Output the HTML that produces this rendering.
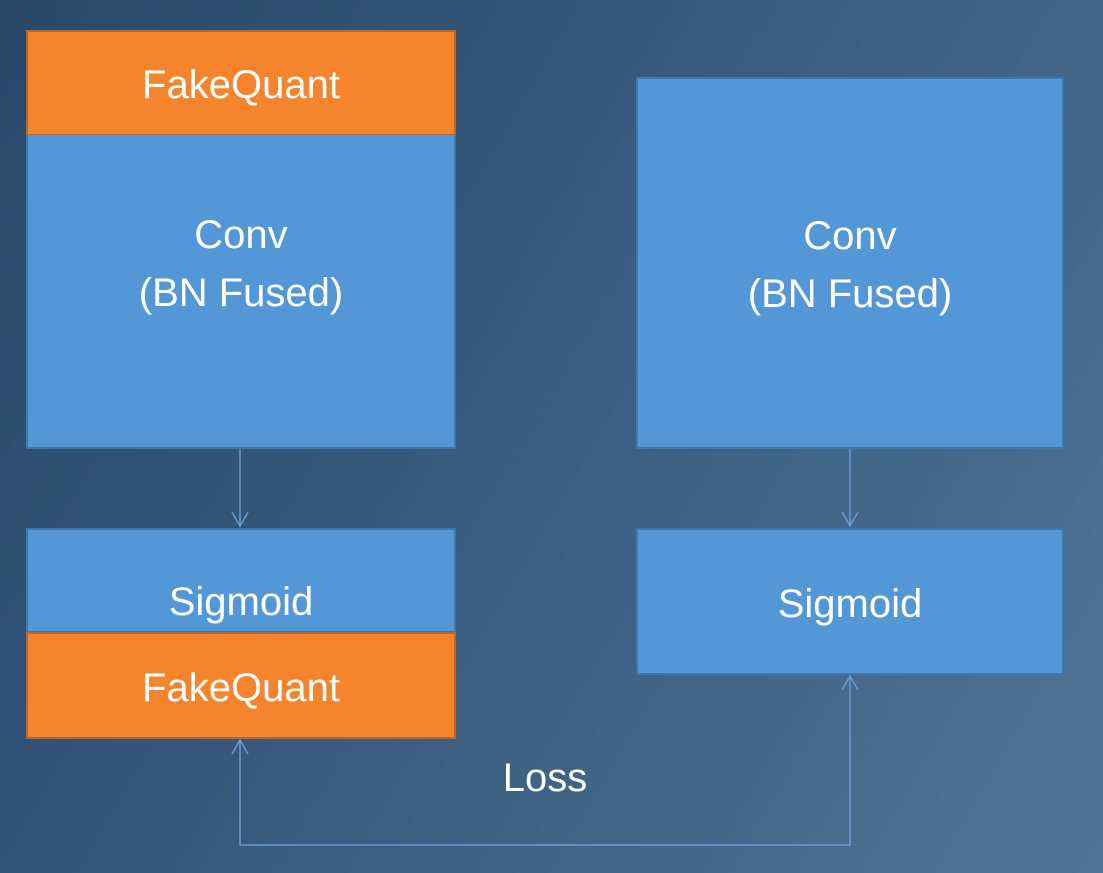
<!DOCTYPE html>
<html><head><meta charset="utf-8"><style>
body{margin:0;width:1103px;height:873px;overflow:hidden;background:linear-gradient(120deg,#294769 0%,#3a5c80 50%,#4f7596 100%);font-family:"Liberation Sans",sans-serif;position:relative}
.b{position:absolute;box-sizing:border-box;display:flex;align-items:center;justify-content:center;text-align:center;color:#fff;font-size:40px;line-height:58px}
.o{background:#f5842c;border:2px solid #b8662a}
.u{background:#5497d6;border:2px solid #3f78ad}
svg{position:absolute;left:0;top:0}
</style></head><body>
<div class="b o" style="left:26px;top:30px;width:430px;height:106px;padding-top:4px">FakeQuant</div>
<div class="b u" style="left:26px;top:135px;width:430px;height:314px;border-top:none;padding-bottom:54px">Conv<br>(BN Fused)</div>
<div class="b u" style="left:26px;top:528px;width:430px;height:105px;padding-top:42px">Sigmoid</div>
<div class="b o" style="left:26px;top:632px;width:430px;height:107px;padding-top:4px">FakeQuant</div>
<div class="b u" style="left:636px;top:77px;width:428px;height:372px;padding-top:4px">Conv<br>(BN Fused)</div>
<div class="b u" style="left:636px;top:528px;width:428px;height:147px;padding-top:4px">Sigmoid</div>
<div class="b" style="left:445px;top:750px;width:200px;height:56px">Loss</div>
<svg width="1103" height="873" fill="none" stroke="#6a9ad0" stroke-width="1.5">
<path d="M240 449V526M232 512L240 526L248 512"/>
<path d="M850 449V526M842 512L850 526L858 512"/>
<path d="M240 740V845H850V676M232 754L240 740L248 754M842 690L850 676L858 690"/>
</svg>
</body></html>
